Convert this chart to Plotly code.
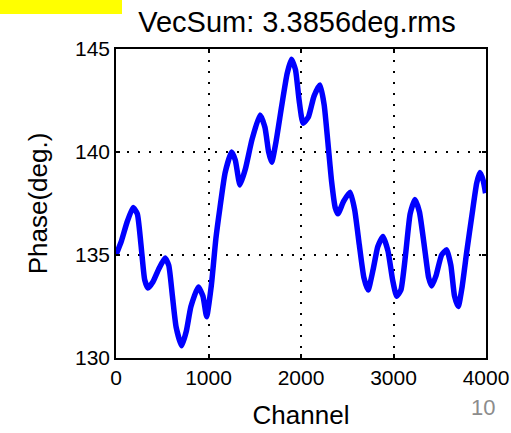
import plotly.graph_objects as go

channel = [0, 60, 120, 184, 230, 270, 310, 346, 400, 460, 530, 570, 610, 650, 710, 760, 810, 890,
           940, 980, 1030, 1080, 1124, 1180, 1250, 1290, 1340, 1400, 1470, 1557, 1610, 1650, 1683,
           1730, 1790, 1850, 1897, 1940, 1980, 2022, 2080, 2140, 2205, 2250, 2290, 2330, 2370, 2400,
           2460, 2530, 2580, 2630, 2680, 2725, 2780, 2830, 2886, 2940, 2990, 3034, 3080, 3130, 3180,
           3232, 3280, 3340, 3380, 3413, 3460, 3520, 3575, 3620, 3660, 3700, 3740, 3790, 3850, 3900,
           3935, 3970, 3995]
phase = [135.0, 135.7, 136.6, 137.3, 137.0, 135.5, 133.8, 133.4, 133.7, 134.3, 134.85, 134.5, 133.0,
         131.5, 130.6, 131.3, 132.5, 133.45, 133.0, 132.0, 133.5, 135.8, 137.3, 139.0, 140.0, 139.6,
         138.4, 139.2, 140.6, 141.8, 141.2, 140.0, 139.5, 140.5, 142.2, 143.8, 144.5, 144.0, 142.5,
         141.4, 141.7, 142.7, 143.25, 142.3, 140.5, 138.6, 137.3, 137.0, 137.6, 138.05, 137.2, 135.5,
         133.9, 133.3, 134.3, 135.4, 135.9, 135.2, 133.8, 133.0, 133.3, 135.0, 137.0, 137.7, 137.1,
         135.2, 133.9, 133.5, 134.0, 135.0, 135.25, 134.5, 133.0, 132.5, 133.4, 135.1, 137.0, 138.5,
         139.0, 138.6, 138.0]

x_ticks = [0, 1000, 2000, 3000, 4000]
y_ticks = [130, 135, 140, 145]
title_text = "VecSum: 3.3856deg.rms"
x_title = "Channel"
y_title = "Phase(deg.)"
page_no = "10"

fig = go.Figure()
fig.add_trace(go.Scatter(x=channel, y=phase, mode="lines",
                         line=dict(color="#0000FF", width=5.5, shape="spline", smoothing=0.5),
                         showlegend=False, hoverinfo="skip"))

font_main = "Liberation Sans, Arial, sans-serif"
axis_common = dict(showline=True, linecolor="black", linewidth=1.5, mirror="ticks",
                   ticks="inside", ticklen=4, tickcolor="black", tickwidth=1.5,
                   showgrid=True, gridcolor="black", gridwidth=1.5, griddash="2px,9px",
                   zeroline=False, automargin=False,
                   tickfont=dict(family=font_main, size=21, color="black"))

fig.update_xaxes(range=[0, 4000], tickvals=x_ticks, ticktext=[str(v) for v in x_ticks],
                 title=dict(text=x_title, font=dict(family=font_main, size=26, color="black"), standoff=18),
                 **axis_common)
fig.update_yaxes(range=[130, 145], tickvals=y_ticks, ticktext=[str(v) for v in y_ticks],
                 title=dict(text=y_title, font=dict(family=font_main, size=26, color="black"), standoff=20),
                 **axis_common)

fig.update_layout(
    width=511, height=433,
    margin=dict(l=116, r=25, t=49, b=75, autoexpand=False),
    paper_bgcolor="white", plot_bgcolor="white",
    title=dict(text=title_text, x=297 / 511, xanchor="center", y=1 - 22 / 433, yanchor="middle",
               yref="container", font=dict(family=font_main, size=29, color="black")),
    shapes=[dict(type="rect", xref="paper", yref="paper",
                 x0=-116 / 370, x1=6 / 370, y0=(358 - 14) / 309, y1=(358 + 2) / 309,
                 fillcolor="#FFFF00", line=dict(width=0), layer="above")],
    annotations=[dict(text=page_no, xref="paper", yref="paper", x=(483 - 116) / 370,
                      y=(358 - 407) / 309, xanchor="center", yanchor="middle", showarrow=False,
                      font=dict(family=font_main, size=22, color="#8C8C8C"))],
)

fig.write_html("out.html", config={"displayModeBar": False},
               post_script="document.body.style.margin='0';document.body.style.overflow='hidden';")
